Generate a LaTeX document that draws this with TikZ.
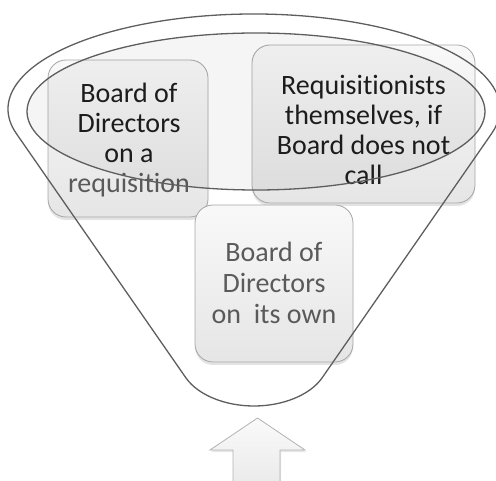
\documentclass[tikz,border=0pt]{standalone}
\usepackage{fontspec}
\setmainfont{Carlito}[Ligatures={NoCommon}]
\usetikzlibrary{shadows}
\definecolor{linegray}{HTML}{5E5E5E}
\definecolor{boxedge}{HTML}{A6A6A6}
\definecolor{darktext}{HTML}{1E1E1E}
\definecolor{softtext}{HTML}{5A5A5A}
\tikzset{
  boxnode/.style={draw=boxedge, line width=0.8pt, rounded corners=18pt,
    top color=gray!5, bottom color=gray!20,
    drop shadow={shadow xshift=0pt, shadow yshift=-3pt, opacity=0.22}},
  boxtext/.style={align=center, font=\fontsize{28}{30}\selectfont, inner sep=0pt},
  funnelline/.style={draw=linegray, line width=1.3pt},
  arrowshape/.style={draw=gray!60, line width=0.8pt, top color=gray!4, bottom color=gray!16,
    drop shadow={shadow xshift=1pt, shadow yshift=-2pt, opacity=0.2}}
}
\begin{document}
\begin{tikzpicture}[x=1pt,y=1pt]
\useasboundingbox (0,0) rectangle (496,480);
\clip (0,0) rectangle (496,480);
% boxes
\node[boxnode, minimum width=160pt, minimum height=157pt] (lbox) at (128,341.5) {};
\node[boxnode, minimum width=223pt, minimum height=158pt] (rbox) at (363.5,356) {};
\node[boxnode, minimum width=158pt, minimum height=157pt] (cbox) at (274,196.5) {};
% texts
\node[boxtext, text=darktext] (ltext) at (129,340) {Board of\\Directors\\on a\\{\color{softtext}requisition}};
\node[boxtext, text=darktext] (rtext) at (363.5,350) {Requisitionists\\themselves, if\\Board does not\\call};
\node[boxtext, text=softtext, font=\fontsize{28}{31}\selectfont] (ctext) at (274,197) {Board of\\Directors\\on\ \ its own};
% inner ellipse
\path[funnelline, fill=black, fill opacity=0.04] (256,368.5) ellipse [x radius=229, y radius=78.5];
% funnel outline
\coordinate (rt) at (491.6,346.4);
\coordinate (lt) at (16.4,346.4);
\coordinate (lb) at (186,102);
\coordinate (bot) at (254,74);
\coordinate (rb) at (322,102);
\draw[funnelline] (rt) arc[start angle=-15, end angle=195, x radius=246, y radius=95]
  -- (lb) .. controls (198,85) and (225,74) .. (bot)
  .. controls (283,74) and (310,85) .. (rb) -- cycle;
% arrow
\path[arrowshape] (233,-3) -- (233,30) -- (210,30) -- (257.5,62) -- (305,30) -- (280,30) -- (280,-3) -- cycle;
\end{tikzpicture}
\end{document}
